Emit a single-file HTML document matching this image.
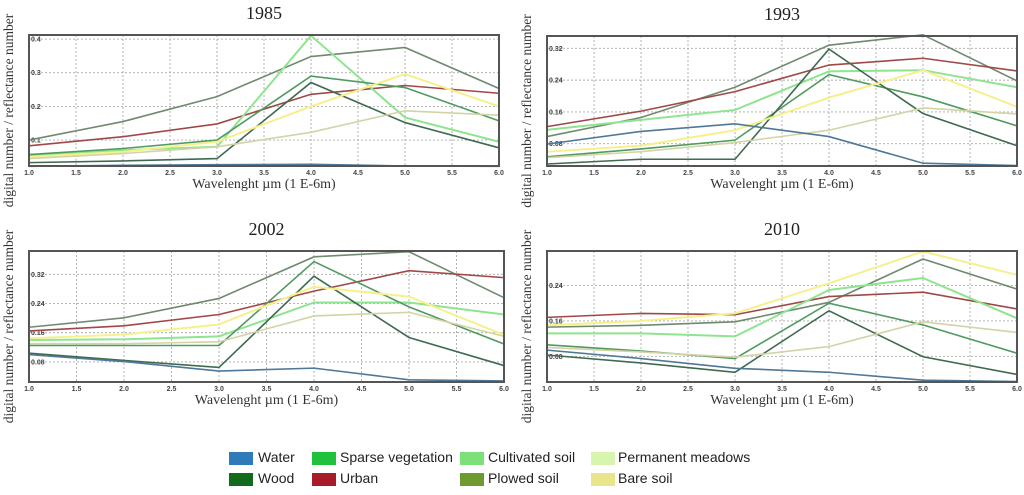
<!DOCTYPE html>
<html><head><meta charset="utf-8"><style>
body{margin:0;background:#fff;width:1024px;height:495px;overflow:hidden;font-family:"Liberation Sans",sans-serif}
svg{position:absolute;left:0;top:0}
.leg{position:absolute;font-size:14px;color:#222}
.sw{position:absolute;width:24px;height:13px}
</style></head><body>
<svg id="chart" width="1024" height="495"></svg>
<div class="sw" style="left:229px;top:452px;background:#2f7ab9"></div>
<div class="leg" style="left:258px;top:449px">Water</div>
<div class="sw" style="left:229px;top:473px;background:#136a1a"></div>
<div class="leg" style="left:258px;top:470px">Wood</div>
<div class="sw" style="left:312px;top:452px;background:#1fc23a"></div>
<div class="leg" style="left:340px;top:449px">Sparse vegetation</div>
<div class="sw" style="left:312px;top:473px;background:#a81c2a"></div>
<div class="leg" style="left:340px;top:470px">Urban</div>
<div class="sw" style="left:460px;top:452px;background:#7ee07a"></div>
<div class="leg" style="left:488px;top:449px">Cultivated soil</div>
<div class="sw" style="left:460px;top:473px;background:#6f9a30"></div>
<div class="leg" style="left:488px;top:470px">Plowed soil</div>
<div class="sw" style="left:591px;top:452px;background:#d8f5b0"></div>
<div class="leg" style="left:618px;top:449px">Permanent meadows</div>
<div class="sw" style="left:591px;top:473px;background:#e8e58a"></div>
<div class="leg" style="left:618px;top:470px">Bare soil</div>
<script>
const wavelengths=[1,2,3,4,5,6];
const xTicks=[1.0,1.5,2.0,2.5,3.0,3.5,4.0,4.5,5.0,5.5,6.0];
const seriesNames=["plowed","urban","cultivated","sparse","wood","bare","meadows","water"];
const seriesColors=["#6f8a6f","#a04848","#8fe48f","#4f9a60","#3f6a50","#f6f08c","#d3d3a6","#4f7898"];
const d1985=[[0.1,0.155,0.229,0.348,0.375,0.253],[0.083,0.11,0.148,0.236,0.262,0.239],[0.055,0.07,0.08,0.41,0.167,0.095],[0.057,0.075,0.1,0.29,0.256,0.157],[0.033,0.038,0.045,0.271,0.152,0.077],[0.05,0.065,0.095,0.2,0.296,0.2],[0.045,0.06,0.08,0.123,0.187,0.174],[0.022,0.025,0.027,0.028,0.023,0.022]];
const d1993=[[0.098,0.146,0.222,0.328,0.354,0.238],[0.123,0.162,0.211,0.278,0.295,0.263],[0.115,0.14,0.165,0.262,0.265,0.222],[0.047,0.067,0.089,0.254,0.198,0.125],[0.029,0.041,0.041,0.318,0.156,0.075],[0.06,0.075,0.114,0.196,0.265,0.173],[0.045,0.06,0.083,0.114,0.17,0.155],[0.079,0.111,0.13,0.098,0.031,0.025]];
const d2002=[[0.175,0.201,0.254,0.368,0.382,0.256],[0.165,0.179,0.21,0.274,0.33,0.311],[0.14,0.142,0.15,0.243,0.243,0.21],[0.125,0.125,0.125,0.355,0.231,0.129],[0.104,0.084,0.065,0.315,0.147,0.07],[0.145,0.155,0.183,0.286,0.259,0.154],[0.13,0.13,0.135,0.206,0.216,0.15],[0.1,0.081,0.055,0.063,0.031,0.028]];
const d2010=[[0.146,0.15,0.158,0.202,0.3,0.232],[0.168,0.177,0.174,0.215,0.225,0.187],[0.132,0.132,0.125,0.23,0.257,0.166],[0.106,0.092,0.075,0.2,0.151,0.087],[0.083,0.065,0.044,0.183,0.079,0.039],[0.15,0.16,0.177,0.245,0.317,0.264],[0.1,0.09,0.078,0.102,0.158,0.134],[0.094,0.075,0.053,0.044,0.026,0.023]];
const yTicks1985=[0.1,0.2,0.3,0.4];
const yTicks1993=[0.08,0.16,0.24,0.32];
const yTicks2002=[0.08,0.16,0.24,0.32];
const yTicks2010=[0.08,0.16,0.24];
const panels=[
 {title:"1985",data:d1985,yt:yTicks1985,x0:29,x1:499,y0:35,y1:166,vmin:0.023,vmax:0.412,dec:1},
 {title:"1993",data:d1993,yt:yTicks1993,x0:547,x1:1017,y0:36,y1:166,vmin:0.024,vmax:0.351,dec:2},
 {title:"2002",data:d2002,yt:yTicks2002,x0:29,x1:504,y0:251,y1:382,vmin:0.025,vmax:0.384,dec:2},
 {title:"2010",data:d2010,yt:yTicks2010,x0:547,x1:1017,y0:251,y1:382,vmin:0.022,vmax:0.318,dec:2}];
const NS="http://www.w3.org/2000/svg";
const svg=document.getElementById("chart");
function mk(t,a,p){const e=document.createElementNS(NS,t);for(const k in a)e.setAttribute(k,a[k]);(p||svg).appendChild(e);return e;}
panels.forEach(P=>{
 const g=mk("g",{});
 
 
 const sx=v=>P.x0+(v-1)/5*(P.x1-P.x0);
 const sy=v=>P.y1-(v-P.vmin)/(P.vmax-P.vmin)*(P.y1-P.y0);
 xTicks.forEach(t=>{mk("line",{x1:sx(t),x2:sx(t),y1:P.y0,y2:P.y1,stroke:"#aaa","stroke-dasharray":"2,2","stroke-width":0.9},g);
  const tx=mk("text",{x:sx(t),y:P.y1+9,"font-size":7,"font-weight":"bold","text-anchor":"middle",fill:"#444"},g);tx.textContent=t.toFixed(1);
  
  });
 P.yt.forEach(t=>{mk("line",{x1:P.x0,x2:P.x1,y1:sy(t),y2:sy(t),stroke:"#aaa","stroke-dasharray":"2,2","stroke-width":0.9},g);
  const tx=mk("text",{x:P.x0+2,y:sy(t)+2.5,"font-size":7,"font-weight":"bold",fill:"#444"},g);tx.textContent=t.toFixed(P.dec);
  
  });
 P.data.forEach((s,i)=>{
  const pl=mk("polyline",{points:s.map((v,j)=>sx(wavelengths[j])+","+sy(v)).join(" "),fill:"none",stroke:seriesColors[i],"stroke-width":i==2||i==5?2:1.6},g);
  
  
 });
 const r=mk("rect",{x:P.x0,y:P.y0,width:P.x1-P.x0,height:P.y1-P.y0,fill:"none",stroke:"#555","stroke-width":2},g);
 
 
 const cx=(P.x0+P.x1)/2;
 const ti=mk("text",{x:cx,y:P.y0-16,"font-size":18,"text-anchor":"middle","font-family":"Liberation Serif,serif",fill:"#222"},g);ti.textContent=P.title;
 
 
 const xl=mk("text",{x:cx,y:P.y1+22,"font-size":14,"text-anchor":"middle","font-family":"Liberation Serif,serif",fill:"#333"},g);xl.textContent="Wavelenght µm (1 E-6m)";
 
 
 const yx=P.x0-16, yy=(P.y0+P.y1)/2+10;
 const yl=mk("text",{x:yx,y:yy,"font-size":13.5,"text-anchor":"middle","font-family":"Liberation Serif,serif",fill:"#333",transform:"rotate(-90 "+yx+" "+yy+")"},g);yl.textContent="digital number / reflectance number";
 
 
});
</script>
</body></html>
